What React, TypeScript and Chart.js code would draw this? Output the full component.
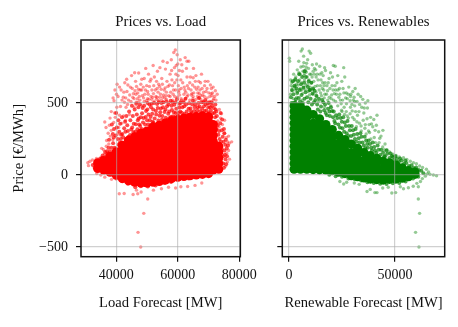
import { useEffect, useRef } from "react";
import { Chart, registerables } from "chart.js";

Chart.register(...registerables);

type P = [number, number];

const priceTicks = [-500, 0, 500];
const loadTicks = [40000, 60000, 80000];
const renewableTicks = [0, 50000];

// Dense mass of the load cloud, where single points can no longer be told apart.
const loadCore: P[] = [
  [34000,45],[34000,85],[36000,35],[36000,75],[36000,100],[38000,20],[38000,60],[38000,100],[38000,130],
  [40000,0],[40000,40],[40000,80],[40000,120],[40000,160],
  [42000,-25],[42000,15],[42000,55],[42000,95],[42000,135],[42000,175],[42000,205],
  [44000,-40],[44000,0],[44000,40],[44000,80],[44000,120],[44000,160],[44000,200],[44000,240],
  [46000,-50],[46000,-10],[46000,30],[46000,70],[46000,110],[46000,150],[46000,190],[46000,230],[46000,265],
  [48000,-55],[48000,-15],[48000,25],[48000,65],[48000,105],[48000,145],[48000,185],[48000,225],[48000,265],[48000,290],
  [50000,-55],[50000,-15],[50000,25],[50000,65],[50000,105],[50000,145],[50000,185],[50000,225],[50000,265],[50000,305],
  [52000,-50],[52000,-10],[52000,30],[52000,70],[52000,110],[52000,150],[52000,190],[52000,230],[52000,270],[52000,310],[52000,335],
  [54000,-45],[54000,-5],[54000,35],[54000,75],[54000,115],[54000,155],[54000,195],[54000,235],[54000,275],[54000,315],[54000,345],
  [56000,-35],[56000,5],[56000,45],[56000,85],[56000,125],[56000,165],[56000,205],[56000,245],[56000,285],[56000,325],[56000,360],
  [58000,-25],[58000,15],[58000,55],[58000,95],[58000,135],[58000,175],[58000,215],[58000,255],[58000,295],[58000,335],[58000,375],
  [60000,-15],[60000,25],[60000,65],[60000,105],[60000,145],[60000,185],[60000,225],[60000,265],[60000,305],[60000,345],[60000,385],
  [62000,-10],[62000,30],[62000,70],[62000,110],[62000,150],[62000,190],[62000,230],[62000,270],[62000,310],[62000,350],[62000,395],
  [64000,-5],[64000,35],[64000,75],[64000,115],[64000,155],[64000,195],[64000,235],[64000,275],[64000,315],[64000,355],[64000,400],
  [66000,0],[66000,40],[66000,80],[66000,120],[66000,160],[66000,200],[66000,240],[66000,280],[66000,320],[66000,360],[66000,405],
  [68000,5],[68000,45],[68000,85],[68000,125],[68000,165],[68000,205],[68000,245],[68000,285],[68000,325],[68000,365],[68000,410],
  [70000,10],[70000,50],[70000,90],[70000,130],[70000,170],[70000,210],[70000,250],[70000,290],[70000,330],[70000,370],[70000,405],
  [71500,35],[71500,75],[71500,115],[71500,155],[71500,195],[71500,235],[71500,275],[71500,315],[71500,350],
  [73300,40],[73300,80],[73300,120],[73300,160],[73300,200],
];

const loadMid: P[] = [
  [41200,225],[42300,262],[43100,248],[43800,305],[44500,278],[45200,330],[45600,296],[46400,352],[46900,318],[47300,392],
  [47800,340],[48400,428],[48700,365],[49200,310],[49600,402],[50100,455],[50400,350],[50900,380],[51300,470],[51700,425],
  [52100,362],[52500,392],[52900,445],[53300,492],[53700,378],[54100,412],[54500,462],[54900,385],[55300,505],[55700,438],
  [56100,398],[56500,478],[56900,425],[57300,395],[57700,515],[58100,452],[58500,408],[58900,488],[59300,430],[59700,525],
  [60100,412],[60500,468],[60900,502],[61300,432],[61700,410],[62100,478],[62500,530],[62900,440],[63300,418],[63700,498],
  [64100,462],[64500,428],[64900,515],[65300,445],[65700,490],[66100,428],[66500,470],[66900,535],[67300,442],[67700,505],
  [68100,430],[68500,478],[68900,520],[69300,448],[69700,498],[70100,432],[70500,470],[70900,505],[71300,428],[71700,465],
  [72100,400],[72200,490],[72400,360],[72600,320],[72500,440],[73200,280],[73600,250],[74000,230],[74300,180],[74700,130],
  [74800,80],[75000,50],[74600,265],[75300,140],[75400,210],[75900,185],[75500,110],[75000,320],[40800,210],[41500,250],
  [37200,150],[39500,190],[39000,220],[34800,115],[33000,50],[33200,75],[32400,70],[35600,135],[37000,165],[43800,-60],
  [46200,-85],[48000,-78],[50300,-80],[52800,-72],[55600,-55],[57800,-48],[60400,-30],[63500,-25],[41800,-40],[40000,-25],
  [42000,285],[42600,325],[42900,370],[43000,300],[43300,410],[43600,345],[44000,265],[44200,440],[44600,380],[44900,315],
  [45100,480],[45400,410],[45700,355],[46000,455],[46200,300],[46500,495],[46700,420],[47000,380],[47200,470],[47500,350],
  [47700,490],[48000,400],[48300,320],[48600,465],[48900,395],[49100,480],[49400,350],[49700,445],[50000,380],[50200,500],
  [50500,420],[50800,490],[51000,340],[51200,405],[51500,495],[51800,370],[52000,455],[52300,500],[52700,345],[53000,420],
  [53500,465],[53800,505],[54000,360],[54300,435],[54700,500],[55000,410],[55200,470],[55500,375],[56000,455],[56300,510],
  [56700,385],[57000,490],[57200,440],[57800,405],[58000,480],[58300,505],[58700,435],[59000,400],[59200,505],[59500,460],
  [60200,430],[60600,495],[60800,440],[61500,470],[61900,505],[62200,425],[62700,490],[63500,460],[64300,440],[64700,490],
  [65500,470],[66300,450],[66700,500],[67100,475],[67900,460],[68300,505],[68700,445],[69100,490],[69900,470],[70300,500],
  [70700,450],[71100,480],[71900,430],[72300,455],[72700,410],[72900,345],[73400,305],[73800,360],
  [41000,300],[41300,355],[41600,280],[41900,400],[40500,250],[40200,330],[39800,275],[39300,320],[38900,285],[38500,190],
  [38000,165],[37700,245],[40700,380],[40000,430],[39200,260],[38600,350],[37500,190],[36800,130],[35400,120],[36400,160],
  [74900,230],[75200,170],[75600,245],[75100,290],[74300,310],[73900,430],[74400,385],[75700,75],[76000,130],[76300,205],
];

const loadSparse: P[] = [
  [47970,-500],[47100,-398],[48960,-266],[50240,-167],[41000,-130],[42600,-128],[45500,-135],[47000,-130],[48100,-118],[46600,-105],
  [52100,-105],[54700,-95],[57000,-85],[59300,-90],[61000,-82],[63200,-80],[65600,-72],[67800,-55],[38500,-30],[36300,-15],
  [35000,0],[33700,10],[31000,65],[31500,95],[32300,105],[33600,115],[30800,85],[36200,145],[36800,200],[35900,175],
  [36900,240],[37400,290],[36700,330],[35300,185],[37600,215],[38100,270],[38400,310],[38900,245],[37800,345],[36300,368],
  [38000,395],[39200,365],[39500,430],[38400,440],[40200,470],[39700,400],[40800,330],[41100,415],[40500,285],[41800,360],
  [39300,515],[39000,535],[40100,560],[39600,590],[40300,630],[41600,590],[42300,540],[42800,640],[43500,580],[44000,520],
  [44600,610],[45000,690],[45600,565],[46300,650],[46900,530],[47300,708],[47800,590],[48500,550],[49100,670],[49600,740],
  [49900,620],[50600,525],[51000,650],[51600,590],[52000,760],[52400,680],[52900,545],[53400,720],[53800,630],[54400,560],
  [54800,670],[55200,790],[55600,590],[56000,735],[56500,650],[57100,550],[57500,700],[57900,800],[58300,620],[58700,850],
  [59200,868],[59500,760],[59800,835],[60100,690],[60400,590],[60800,800],[61000,660],[61500,720],[62000,560],[62400,815],
  [62800,740],[63100,620],[63600,790],[64100,680],[64600,565],[65100,740],[65500,610],[65900,690],[66400,545],[66800,650],
  [67200,590],[67700,700],[68100,555],[68700,620],[69200,580],[69800,650],[70400,545],[70900,600],[71300,570],[71700,530],
  [72800,560],[72400,520],[73000,375],[73400,335],[73900,395],[74500,350],[75200,290],[75800,260],[76200,230],[76700,220],
  [77500,230],[76500,170],[76800,110],[76100,90],[75500,60],[75900,150],[76500,270],[75200,380],[74200,425],[73500,455],
  [44300,420],[45800,470],[47100,505],[48300,480],[49800,515],[51300,545],[53100,525],[55100,540],[57200,505],[59000,545],
  [61200,520],[63300,555],[65400,510],[67500,525],[69300,510],[71300,500],[43200,470],[42400,410],[41400,475],[43000,380],
  [40600,545],[41100,610],[41900,520],[42500,575],[43100,535],[43800,625],[44400,555],[45200,600],[45800,530],[46100,585],
  [46600,615],[47000,570],[47500,545],[48000,630],[48300,590],[48800,610],[49300,560],[50200,580],[50800,615],[51300,665],
  [51900,540],[52200,620],[52700,590],[53100,650],[53600,575],[54100,615],[54600,595],[55000,630],[55400,555],[55900,605],
  [56300,575],[56800,615],[57300,625],[57700,575],[58100,660],[58500,560],[59000,640],[59300,590],[59700,660],[60200,620],
  [60600,555],[61100,600],[61600,640],[62100,610],[62600,575],[63000,680],[63500,600],[63900,640],[64300,590],[64800,625],
  [65200,570],[65700,650],[66100,595],[66600,610],[67000,565],[67400,640],[67900,600],[68400,575],[68900,650],[69500,600],
  [70100,570],[70600,625],[71100,550],[71500,610],[72000,545],[72200,585],[58900,745],[59400,700],[60000,770],[60500,725],
  [61300,765],[58000,725],[56600,780],[54200,745],[50500,700],[48300,665],[46000,710],[43400,665],[63000,790],[65000,675],
  [47700,520],[50200,530],[51500,525],[53200,540],[53800,515],[55300,505],[55800,535],[57500,545],[58300,520],[59900,540],
  [61100,530],[61900,515],[63000,545],[63900,520],[65000,545],[65900,525],[67500,550],[68300,510],[69500,535],[70300,510],
  [71500,520],[46500,505],[49100,510],[52300,510],[54700,520],[56300,525],[60900,510],[62500,530],[64900,530],[66900,535],
  [42700,505],[43700,490],[44800,510],[45400,540],[46400,560],[47200,595],[48900,535],[50400,560],[52100,565],[54100,540],
  [56200,550],[58600,590],[60300,575],[62300,590],[64400,555],[66500,570],[68600,545],[70800,565],[49500,590],[53300,600],
];

// Dense mass of the renewables cloud.
const renewableCore: P[] = [
  [2400,40],[2400,80],[2400,120],[2400,160],[2400,200],[2400,240],[2400,280],[2400,320],[2400,360],[2400,400],[2400,440],[2400,480],
  [5400,40],[5400,80],[5400,120],[5400,160],[5400,200],[5400,240],[5400,280],[5400,320],[5400,360],[5400,400],[5400,440],[5400,475],
  [8400,40],[8400,80],[8400,120],[8400,160],[8400,200],[8400,240],[8400,280],[8400,320],[8400,360],[8400,400],[8400,450],
  [11400,38],[11400,78],[11400,118],[11400,158],[11400,198],[11400,238],[11400,278],[11400,318],[11400,358],[11400,420],
  [14400,36],[14400,76],[14400,116],[14400,156],[14400,196],[14400,236],[14400,276],[14400,316],[14400,356],[14400,390],
  [17400,35],[17400,75],[17400,115],[17400,155],[17400,195],[17400,235],[17400,275],[17400,315],[17400,350],
  [20400,30],[20400,70],[20400,110],[20400,150],[20400,190],[20400,230],[20400,270],[20400,315],
  [23400,20],[23400,60],[23400,100],[23400,140],[23400,180],[23400,220],[23400,275],
  [26400,10],[26400,50],[26400,90],[26400,130],[26400,170],[26400,210],[26400,245],
  [29400,-5],[29400,35],[29400,75],[29400,115],[29400,155],[29400,215],
  [32400,-12],[32400,28],[32400,68],[32400,108],[32400,148],[32400,185],
  [35400,-20],[35400,20],[35400,60],[35400,100],[35400,155],
  [38400,-28],[38400,12],[38400,52],[38400,92],[38400,135],
  [41400,-32],[41400,8],[41400,48],[41400,90],[41400,115],
  [44400,-35],[44400,5],[44400,45],[44400,95],
  [47400,-30],[47400,10],[47400,50],[47400,85],
  [50400,-28],[50400,12],[50400,50],[50400,70],
  [53400,-22],[53400,15],[53400,50],
  [56400,-12],[56400,30],
  [59400,5],[59400,20],
];

const renewableMid: P[] = [
  [1200,500],[3200,525],[5200,510],[7300,530],[9100,505],[10800,490],[12400,520],[13600,455],[15100,475],[16200,505],
  [17300,430],[18400,460],[19300,410],[20300,445],[21400,375],[22200,415],[23300,350],[24400,395],[25200,325],[26300,365],
  [27200,290],[28300,340],[29300,270],[30200,310],[31100,250],[32200,285],[33300,225],[34200,265],[35300,205],[36400,240],
  [37100,190],[38200,215],[39100,170],[40200,195],[41200,155],[42300,175],[43100,140],[44400,155],[45300,130],[46300,148],
  [47400,118],[48500,132],[49600,105],[50800,112],[51800,92],[53000,100],[54200,78],[55400,84],[56600,62],[57800,68],
  [58800,48],[60000,52],[61200,35],[62400,30],[63400,12],[61000,-12],[58500,-25],[55000,-45],[52000,-55],[49000,-58],
  [46000,-62],[43000,-60],[40000,-55],[37000,-50],[34000,-38],[31000,-30],[28000,-25],[25000,-12],[22000,-8],[19000,2],
  [900,540],[2100,560],[2900,505],[3900,570],[4600,535],[5900,555],[6500,500],[7800,575],[8500,540],[9600,590],
  [10200,530],[11100,565],[11800,505],[12900,550],[13300,490],[14100,530],[14800,440],[15600,520],[16600,450],[17000,490],
  [17900,415],[18700,500],[19100,440],[19800,470],[20800,400],[21100,440],[21800,360],[22800,395],[23700,420],[24000,330],
  [24900,370],[25600,400],[26000,300],[26800,340],[27600,375],[28000,270],[28700,310],[29600,340],[30600,280],[31400,320],
  [31800,230],[32800,255],[33700,290],[34700,225],[35700,265],[36000,185],[36900,215],[37600,240],[38800,190],[39500,225],
  [40600,170],[41800,205],[43500,175],[44900,130],[46000,170],[47900,150],[49000,125],[50200,130],[52400,115],[54800,100],
  [1400,590],[2600,620],[3500,600],[4300,650],[5100,590],[5700,630],[6200,680],[6800,605],[7200,640],[8000,680],
  [8900,610],[9300,650],[10000,590],[10500,640],[11300,600],[12100,585],[1800,650],[3000,665],[4800,700],[7400,720],
];

const renewableSparse: P[] = [
  [61300,-500],[59700,-398],[61600,-266],[61000,-167],[69600,-5],[68100,0],[66500,5],[65200,8],[64300,-8],[62900,-25],
  [62000,-45],[60300,-58],[58600,-78],[61000,-82],[56300,-88],[54000,-95],[52500,-82],[50300,-122],[48500,-125],[41500,-122],
  [40500,-122],[38300,-100],[36800,-115],[44200,-90],[46800,-85],[33100,-65],[30800,-55],[27200,-50],[25800,-62],[24000,-45],
  [150,810],[300,790],[5700,860],[6300,875],[9500,860],[10200,845],[7000,780],[6700,755],[9200,740],[7700,730],
  [11000,765],[13000,770],[14500,755],[16800,745],[17200,725],[20900,760],[21800,755],[25800,745],[5000,660],[2500,655],
  [3500,630],[1800,610],[7000,690],[8600,680],[10400,700],[11700,650],[12800,680],[13400,620],[15100,660],[15700,600],
  [17000,640],[18200,585],[18900,670],[20300,620],[21400,565],[22600,640],[23800,600],[24900,650],[26300,680],[27000,570],
  [28200,610],[29000,545],[30100,580],[31200,600],[32600,560],[33800,545],[34800,525],[36000,500],[37200,515],[30300,520],
  [4000,580],[6000,590],[8000,620],[9700,555],[11500,595],[13100,545],[14900,570],[16600,535],[18300,520],[20100,555],
  [22000,510],[23500,540],[25300,520],[27100,495],[29000,470],[31000,480],[33000,440],[35300,430],[37000,465],[38500,400],
  [40000,385],[41500,415],[39500,335],[41200,345],[42300,300],[43400,270],[44300,310],[45300,215],[46200,175],[47400,160],
  [49000,145],[50500,135],[52000,125],[54000,120],[55600,108],[57200,95],[58700,85],[60100,78],[61600,62],[63000,52],
  [64800,40],[65800,22],[27500,410],[30800,385],[33200,360],[35800,325],[38000,295],[40200,260],[42500,225],[44200,195],
  [24800,450],[26200,420],[28800,425],[31800,335],[34100,305],[36400,285],[38600,250],[40800,225],[19700,480],[16800,470],
  [700,560],[1300,640],[1500,585],[2200,700],[2900,615],[3200,680],[3600,540],[4300,625],[4700,710],[5200,600],
  [5600,750],[6000,640],[6400,565],[6900,610],[7300,660],[7700,590],[8200,715],[8800,630],[9100,580],[9400,660],
  [9900,610],[10700,640],[11300,560],[11900,700],[12300,615],[12700,575],[13700,660],[14200,590],[14600,700],[15300,550],
  [15900,640],[16400,590],[17700,560],[19300,600],[19900,530],[20800,590],[21700,620],[22400,560],[23100,590],[24200,520],
  [25900,570],[26700,535],[27900,560],[28800,515],[29700,490],[30700,540],[32100,510],[33300,490],[34300,470],[35500,465],
  [800,660],[3900,730],[4600,790],[6900,825],[7400,705],[8300,775],[8800,800],[11400,720],[12600,730],[16100,690],
  [19600,710],[23000,690],[3000,590],[2000,530],[1000,620],[6200,520],[13900,510],[17900,620],[26000,470],[31400,440],
  [36800,390],[38900,355],[40600,310],[42800,255],[45000,175],[37800,350],[35000,380],[32300,415],[29800,445],[24600,495],
  [5300,700],[6600,720],[8100,750],[9800,700],[10900,680],[12000,740],[13300,700],[15500,710],[16500,620],[18500,640],
  [20500,680],[22000,590],[24000,560],[25500,600],[27500,530],[29200,560],[31000,510],[14800,620],[16900,560],[19000,540],
  [21000,520],[23000,480],[25000,440],[27000,440],[28000,395],[30000,400],[32000,370],[34000,340],[36000,350],[37500,305],
];

function makeChart(
  canvas: HTMLCanvasElement,
  title: string,
  xTitle: string,
  xMin: number,
  xMax: number,
  xTicks: number[],
  leftWidth: number,
  rightPad: number,
  showY: boolean,
  rgb: string,
  core: P[],
  mid: P[],
  sparse: P[],
) {
  const toXY = (list: P[]) => list.map(([x, y]) => ({ x, y }));
  const frame = {
    id: "frame",
    afterDraw(c: Chart) {
      const a = c.chartArea;
      const g = c.ctx;
      g.save();
      g.strokeStyle = "#111";
      g.lineWidth = 1.5;
      g.strokeRect(a.left, a.top, a.right - a.left, a.bottom - a.top);
      g.restore();
    },
  };
  const tickFont = { family: "'Liberation Serif'", size: 14 };
  const labelFont = { family: "'Liberation Serif'", size: 14.6 };
  const gridLine = { z: 1, color: "rgba(170,170,170,0.55)", lineWidth: 1.2, tickColor: "#111", tickLength: 5 };
  return new Chart(canvas, {
    type: "scatter",
    data: {
      datasets: [
        { data: toXY(sparse), pointRadius: 1.7, pointBorderWidth: 0, pointBackgroundColor: `rgba(${rgb},0.42)` },
        { data: toXY(mid), pointRadius: 2, pointBorderWidth: 0, pointBackgroundColor: `rgba(${rgb},0.7)` },
        { data: toXY(core), pointRadius: 4.6, pointBorderWidth: 0, pointBackgroundColor: `rgb(${rgb})` },
      ],
    },
    plugins: [frame],
    options: {
      animation: false,
      responsive: false,
      events: [],
      layout: { padding: { top: 0, left: 0, right: rightPad, bottom: 0 } },
      plugins: {
        legend: { display: false },
        tooltip: { enabled: false },
      },
      scales: {
        x: {
          type: "linear",
          min: xMin,
          max: xMax,
          afterBuildTicks: (s: any) => { s.ticks = xTicks.map((value) => ({ value })); },
          afterFit: (s: any) => { s.height = 70.3; },
          ticks: { color: "#111", font: tickFont, maxRotation: 0, autoSkip: false, padding: 5, callback: (v: any) => String(v) },
          border: { display: false },
          grid: gridLine,
          title: { display: true, text: xTitle, color: "#111", font: labelFont, padding: { top: 0, bottom: 15 } },
        },
        top: {
          type: "linear",
          position: "top",
          min: xMin,
          max: xMax,
          afterFit: (s: any) => { s.height = 40; },
          ticks: { display: false },
          border: { display: false },
          grid: { display: false },
          title: { display: true, text: title, color: "#111", font: { family: "'Liberation Serif'", size: 14.8 }, padding: { top: 13, bottom: 0 } },
        },
        y: {
          type: "linear",
          min: -567,
          max: 937,
          afterBuildTicks: (s: any) => { s.ticks = priceTicks.map((value) => ({ value })); },
          afterFit: (s: any) => { s.width = leftWidth; },
          ticks: {
            color: "#111",
            font: tickFont,
            padding: 8,
            callback: (v: any) => (showY ? String(v).replace("-", "\u2212") : ""),
          },
          border: { display: false },
          grid: gridLine,
          title: { display: showY, text: "Price [\u20ac/MWh]", color: "#111", font: labelFont, padding: { top: 10, bottom: 0 } },
        },
      },
    } as any,
  });
}

export default function App() {
  const left = useRef<HTMLCanvasElement>(null);
  const right = useRef<HTMLCanvasElement>(null);
  useEffect(() => {
    const a = makeChart(left.current!, "Prices vs. Load", "Load Forecast [MW]", 28576, 80320, loadTicks, 81, 19.3, true, "255,0,0", loadCore, loadMid, loadSparse);
    const b = makeChart(right.current!, "Prices vs. Renewables", "Renewable Forecast [MW]", -3160, 73440, renewableTicks, 20.3, 13.3, false, "0,128,0", renewableCore, renewableMid, renewableSparse);
    return () => { a.destroy(); b.destroy(); };
  }, []);
  return (
    <div style={{ position: "absolute", left: 0, top: 0, width: 458, height: 327, background: "#fff" }}>
      <canvas ref={left} width={262} height={327} style={{ position: "absolute", left: 0, top: 0 }} />
      <canvas ref={right} width={196} height={327} style={{ position: "absolute", left: 262, top: 0 }} />
    </div>
  );
}
